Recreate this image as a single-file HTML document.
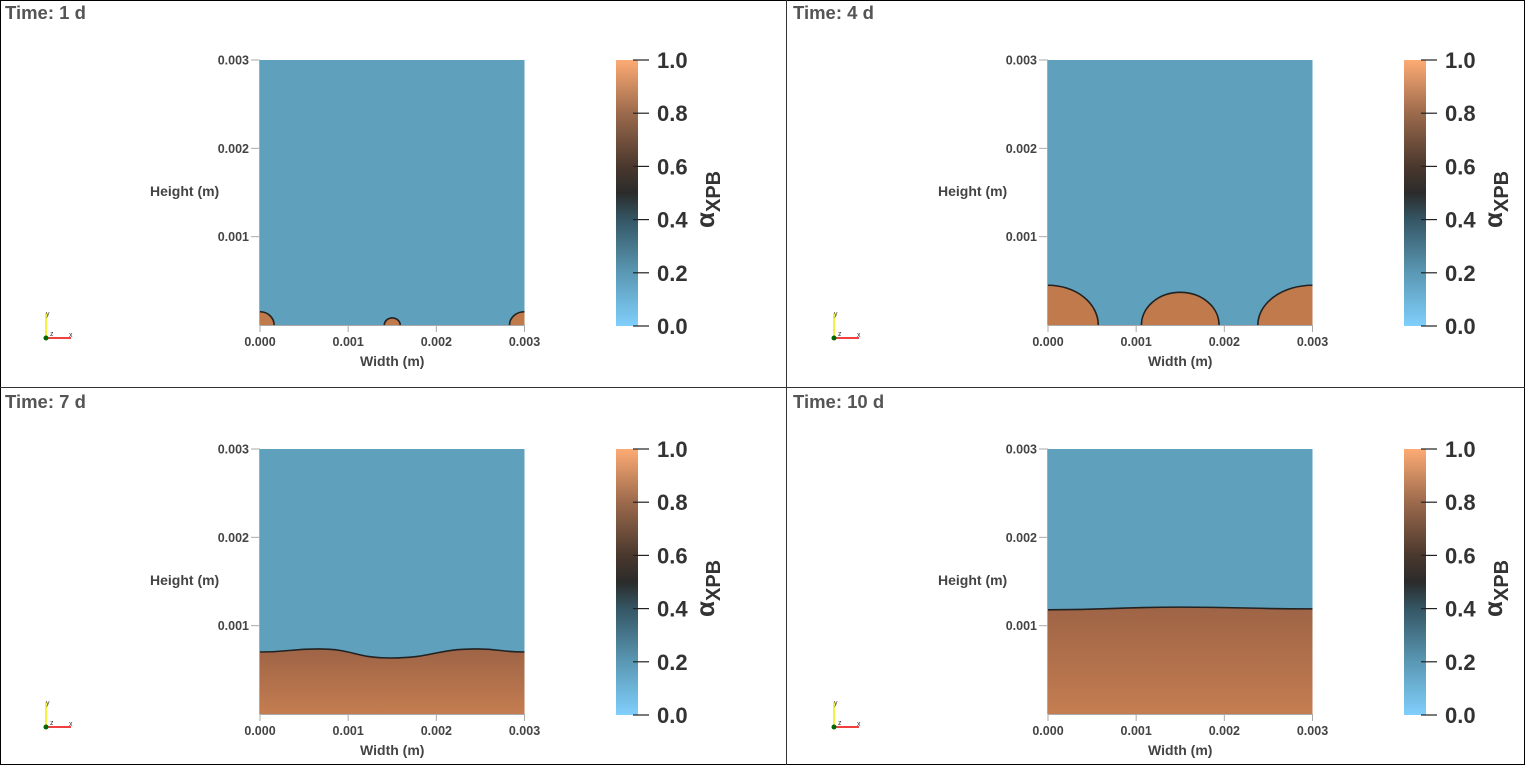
<!DOCTYPE html>
<html><head><meta charset="utf-8"><style>
html,body{margin:0;padding:0;background:#fff}
svg{display:block}
text{font-family:"Liberation Sans","DejaVu Sans",sans-serif}
</style></head><body>
<svg id="s" width="1525" height="765" viewBox="0 0 1525 765" xmlns="http://www.w3.org/2000/svg">
<defs>
<linearGradient id="cb" x1="0" y1="1" x2="0" y2="0">
<stop offset="0" stop-color="#80cffc"/><stop offset="0.2" stop-color="#5a98b4"/><stop offset="0.4" stop-color="#345664"/><stop offset="0.5" stop-color="#2b2b2b"/><stop offset="0.6" stop-color="#4a382d"/><stop offset="0.8" stop-color="#9c6a4c"/><stop offset="1" stop-color="#fdab74"/>
</linearGradient>
<linearGradient id="br" x1="0" y1="0" x2="0" y2="1">
<stop offset="0" stop-color="#9e6446"/><stop offset="1" stop-color="#c47d50"/>
</linearGradient>
</defs>
<rect x="0.5" y="0.5" width="1524" height="764" fill="none" stroke="#000"/>
<line x1="786.5" y1="0" x2="786.5" y2="765" stroke="#333"/>
<line x1="0" y1="387.5" x2="1525" y2="387.5" stroke="#333"/>
</svg>
<script>
// Data
const times = ["1 d","4 d","7 d","10 d"];
const axisTicks = [0, 0.001, 0.002, 0.003];
const axisTickLabels = ["0.000","0.001","0.002","0.003"];
const cbTicks = [0, 0.2, 0.4, 0.6, 0.8, 1.0];
const cbTickLabels = ["0.0","0.2","0.4","0.6","0.8","1.0"];
// t=1 d caps (center x, half-width, height) in m
const capCenters1 = [0, 0.0015, 0.003];
const capWidths1 = [0.00016, 0.00009, 0.00017];
const capHeights1 = [0.00015, 0.00008, 0.00015];
// t=4 d caps
const capCenters4 = [0, 0.0015, 0.003];
const capWidths4 = [0.00057, 0.00044, 0.00062];
const capHeights4 = [0.00045, 0.00037, 0.00045];
// t=7 d interface
const ifaceX7 = [0, 0.00066, 0.00148, 0.00246, 0.003];
const ifaceH7 = [0.000702, 0.000736, 0.000634, 0.000736, 0.000702];
// t=10 d interface
const ifaceX10 = [0, 0.0015, 0.003];
const ifaceH10 = [0.00118, 0.00121, 0.00119];

const svg = document.getElementById('s');
const NS = 'http://www.w3.org/2000/svg';
function mk(tag, attrs, parent){const e=document.createElementNS(NS,tag);for(const k in attrs)e.setAttribute(k,attrs[k]);(parent||svg).appendChild(e);return e;}

const PW=264.5, PH=265, DOM=0.003;
function panel(i, ox, oy){
  const g = mk('g',{transform:`translate(${ox},${oy})`});
  
  
  const X0=260, Y0=60;
  const sx = v => X0 + v/DOM*PW;
  const sy = v => Y0 + PH - v/DOM*PH;
  const t = mk('text',{x:5,y:19,'font-size':18.5,fill:'#555','font-weight':'bold'},g);
  t.textContent = 'Time: ' + times[i];
  
  
  const bg = mk('rect',{x:X0,y:Y0,width:PW,height:PH,fill:'#5fa0bc'},g);
  
  
  const clip = mk('clipPath',{id:'c'+i},g);
  mk('rect',{x:X0,y:Y0,width:PW,height:PH},clip);
  const dg = mk('g',{'clip-path':`url(#c${i})`},g);
  if(i<2){
    const cc = i==0?capCenters1:capCenters4, cw=i==0?capWidths1:capWidths4, ch=i==0?capHeights1:capHeights4;
    for(let k=0;k<cc.length;k++){
      const e = mk('ellipse',{cx:sx(cc[k]),cy:sy(0),rx:cw[k]/DOM*PW,ry:ch[k]/DOM*PH,fill:'#c07a4c',stroke:'#222','stroke-width':1.6},dg);
      
      
    }
  } else {
    const xs = i==2?ifaceX7:ifaceX10, hs=i==2?ifaceH7:ifaceH10;
    const pts = xs.map((x,k)=>[sx(x),sy(hs[k])]);
    let d = `M${pts[0][0]},${pts[0][1]}`;
    for(let k=1;k<pts.length;k++){const p=pts[k-1],q=pts[k],mx=(p[0]+q[0])/2;d+=` C${mx},${p[1]} ${mx},${q[1]} ${q[0]},${q[1]}`;}
    const area = mk('path',{d:d+` L${sx(DOM)},${sy(0)} L${sx(0)},${sy(0)} Z`,fill:'url(#br)'},dg);
    
    
    const line = mk('path',{d:d,fill:'none',stroke:'#222','stroke-width':1.6},dg);
    
    
  }
  // axes
  mk('line',{x1:X0-0.5,y1:Y0,x2:X0-0.5,y2:Y0+PH,stroke:'#aaa'},g);
  mk('line',{x1:X0,y1:Y0+PH+0.5,x2:X0+PW,y2:Y0+PH+0.5,stroke:'#aaa'},g);
  axisTicks.forEach((v,k)=>{
    if(k>0){
      mk('line',{x1:X0-9,y1:sy(v),x2:X0,y2:sy(v),stroke:'#aaa'},g);
      const yl = mk('text',{x:X0-11,y:sy(v)+4.5,'font-size':12.5,'font-weight':'bold',fill:'#444','text-anchor':'end'},g);
      yl.textContent = axisTickLabels[k];
      
      
    }
    mk('line',{x1:sx(v),y1:Y0+PH,x2:sx(v),y2:Y0+PH+7,stroke:'#aaa'},g);
    const xl = mk('text',{x:sx(v),y:Y0+PH+21,'font-size':12.5,'font-weight':'bold',fill:'#444','text-anchor':'middle'},g);
    xl.textContent = axisTickLabels[k];
    
    
  });
  const yt = mk('text',{x:150,y:196,'font-size':14,'font-weight':'bold',fill:'#444'},g);
  yt.textContent='Height (m)';
  
  
  const xt = mk('text',{x:X0+PW/2,y:366,'font-size':14,'font-weight':'bold',fill:'#444','text-anchor':'middle'},g);
  xt.textContent='Width (m)';
  
  
  // colorbar
  const CX=616, CW=22, CY=60, CH=266;
  const cb = mk('rect',{x:CX,y:CY,width:CW,height:CH,fill:'url(#cb)'},g);
  
  
  cbTicks.forEach((v,k)=>{
    const y = CY+CH - v*CH;
    mk('line',{x1:CX+17,y1:y,x2:CX+33,y2:y,stroke:'#222','stroke-width':1.2},g);
    const l = mk('text',{x:657,y:y+8,'font-size':22,'font-weight':'bold',fill:'#333'},g);
    l.textContent = cbTickLabels[k];
    
    
  });
  const ct = mk('text',{transform:'translate(714,228) rotate(-90)','font-size':26,'font-weight':'bold',fill:'#333'},g);
  ct.textContent='α';
  const sub = mk('tspan',{'font-size':20,dy:6},ct);
  sub.textContent='XPB';
  
  
  // orientation axes
  const og = mk('g',{},g);
  
  
  mk('line',{x1:46,y1:338,x2:46,y2:313,stroke:'#ee0','stroke-width':1.5},og);
  mk('line',{x1:46,y1:338,x2:71,y2:338,stroke:'#e00','stroke-width':1.5},og);
  mk('circle',{cx:46,cy:338,r:2.5,fill:'#060'},og);
  const tx = mk('text',{x:69,y:337,'font-size':7,fill:'#333'},og); tx.textContent='x';
  const ty = mk('text',{x:46,y:316,'font-size':7,fill:'#333'},og); ty.textContent='y';
  const tz = mk('text',{x:50,y:336,'font-size':7,fill:'#333'},og); tz.textContent='z';
}
panel(0,0,0); panel(1,788,0); panel(2,0,389); panel(3,788,389);
</script>
</body></html>
